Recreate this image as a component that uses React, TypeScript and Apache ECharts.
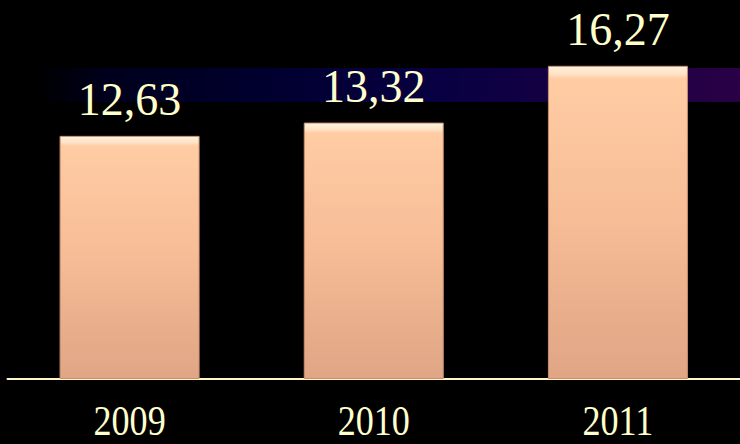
import React, { useEffect, useRef } from "react";
import * as echarts from "echarts";

const categories = ["2009", "2010", "2011"];
const values = [12.63, 13.32, 16.27];

const fmt = (v: number) => v.toFixed(2).replace(".", ",");

export default function App() {
  const ref = useRef<HTMLDivElement>(null);
  useEffect(() => {
    if (!ref.current) return;
    const chart = echarts.init(ref.current, null, { renderer: "svg" });
    const option: any = {
      animation: false,
      backgroundColor: "#000000",
      grid: { left: 7.5, right: -2.5, top: 32.5, bottom: 65 },
      xAxis: {
        type: "category",
        data: categories,
        axisLine: { show: true, lineStyle: { color: "#FFF6C8", width: 2 } },
        axisTick: { show: false },
        axisLabel: { show: false },
      },
      yAxis: {
        type: "value",
        min: 0,
        max: 18,
        show: false,
        splitLine: { show: false },
      },
      graphic: [
        {
          type: "rect",
          z: 0,
          silent: true,
          shape: { x: 0, y: 68, width: 740, height: 34 },
          style: {
            fill: new echarts.graphic.LinearGradient(0, 0, 1, 0, [
              { offset: 0, color: "#000000" },
              { offset: 0.05, color: "#000000" },
              { offset: 0.14, color: "#00001c" },
              { offset: 0.35, color: "#00002e" },
              { offset: 0.6, color: "#080042" },
              { offset: 0.85, color: "#1c0044" },
              { offset: 1, color: "#2a0046" },
            ]),
          },
        },
      ],
      series: [
        {
          type: "bar",
          data: values,
          barWidth: 140,
          z: 2,
          itemStyle: {
            color: new echarts.graphic.LinearGradient(0, 0, 0, 1, [
              { offset: 0, color: "#FFF4E2" },
              { offset: 0.025, color: "#FFE2C4" },
              { offset: 0.04, color: "#FFCCA4" },
              { offset: 0.5, color: "#F6BC96" },
              { offset: 1, color: "#DFA585" },
            ]),
            borderColor: "#C8906E",
            borderWidth: 1,
          },
          label: {
            show: true,
            position: "top",
            distance: 13,
            formatter: (p: any) => fmt(p.value),
            color: "#FFFFCC",
            fontFamily: "'Times New Roman', 'Liberation Serif', serif",
            fontSize: 46,
            lineHeight: 46,
          },
        },
      ],
    };
    chart.setOption(option);
    const labels = categories.map((c) => {
      const [px] = chart.convertToPixel({ xAxisIndex: 0, yAxisIndex: 0 }, [c, 0]) as number[];
      return {
        type: "text",
        x: px,
        y: 421,
        scaleX: 0.86,
        z: 5,
        style: {
          text: c,
          fill: "#FFFFCC",
          fontFamily: "'Times New Roman', 'Liberation Serif', serif",
          fontSize: 42,
          lineHeight: 30,
          align: "center",
          verticalAlign: "middle",
        },
      };
    });
    chart.setOption({ graphic: [option.graphic[0], ...labels] });
    return () => chart.dispose();
  }, []);
  return <div ref={ref} style={{ width: 740, height: 444, position: "absolute", left: 0, top: 0 }} />;
}
